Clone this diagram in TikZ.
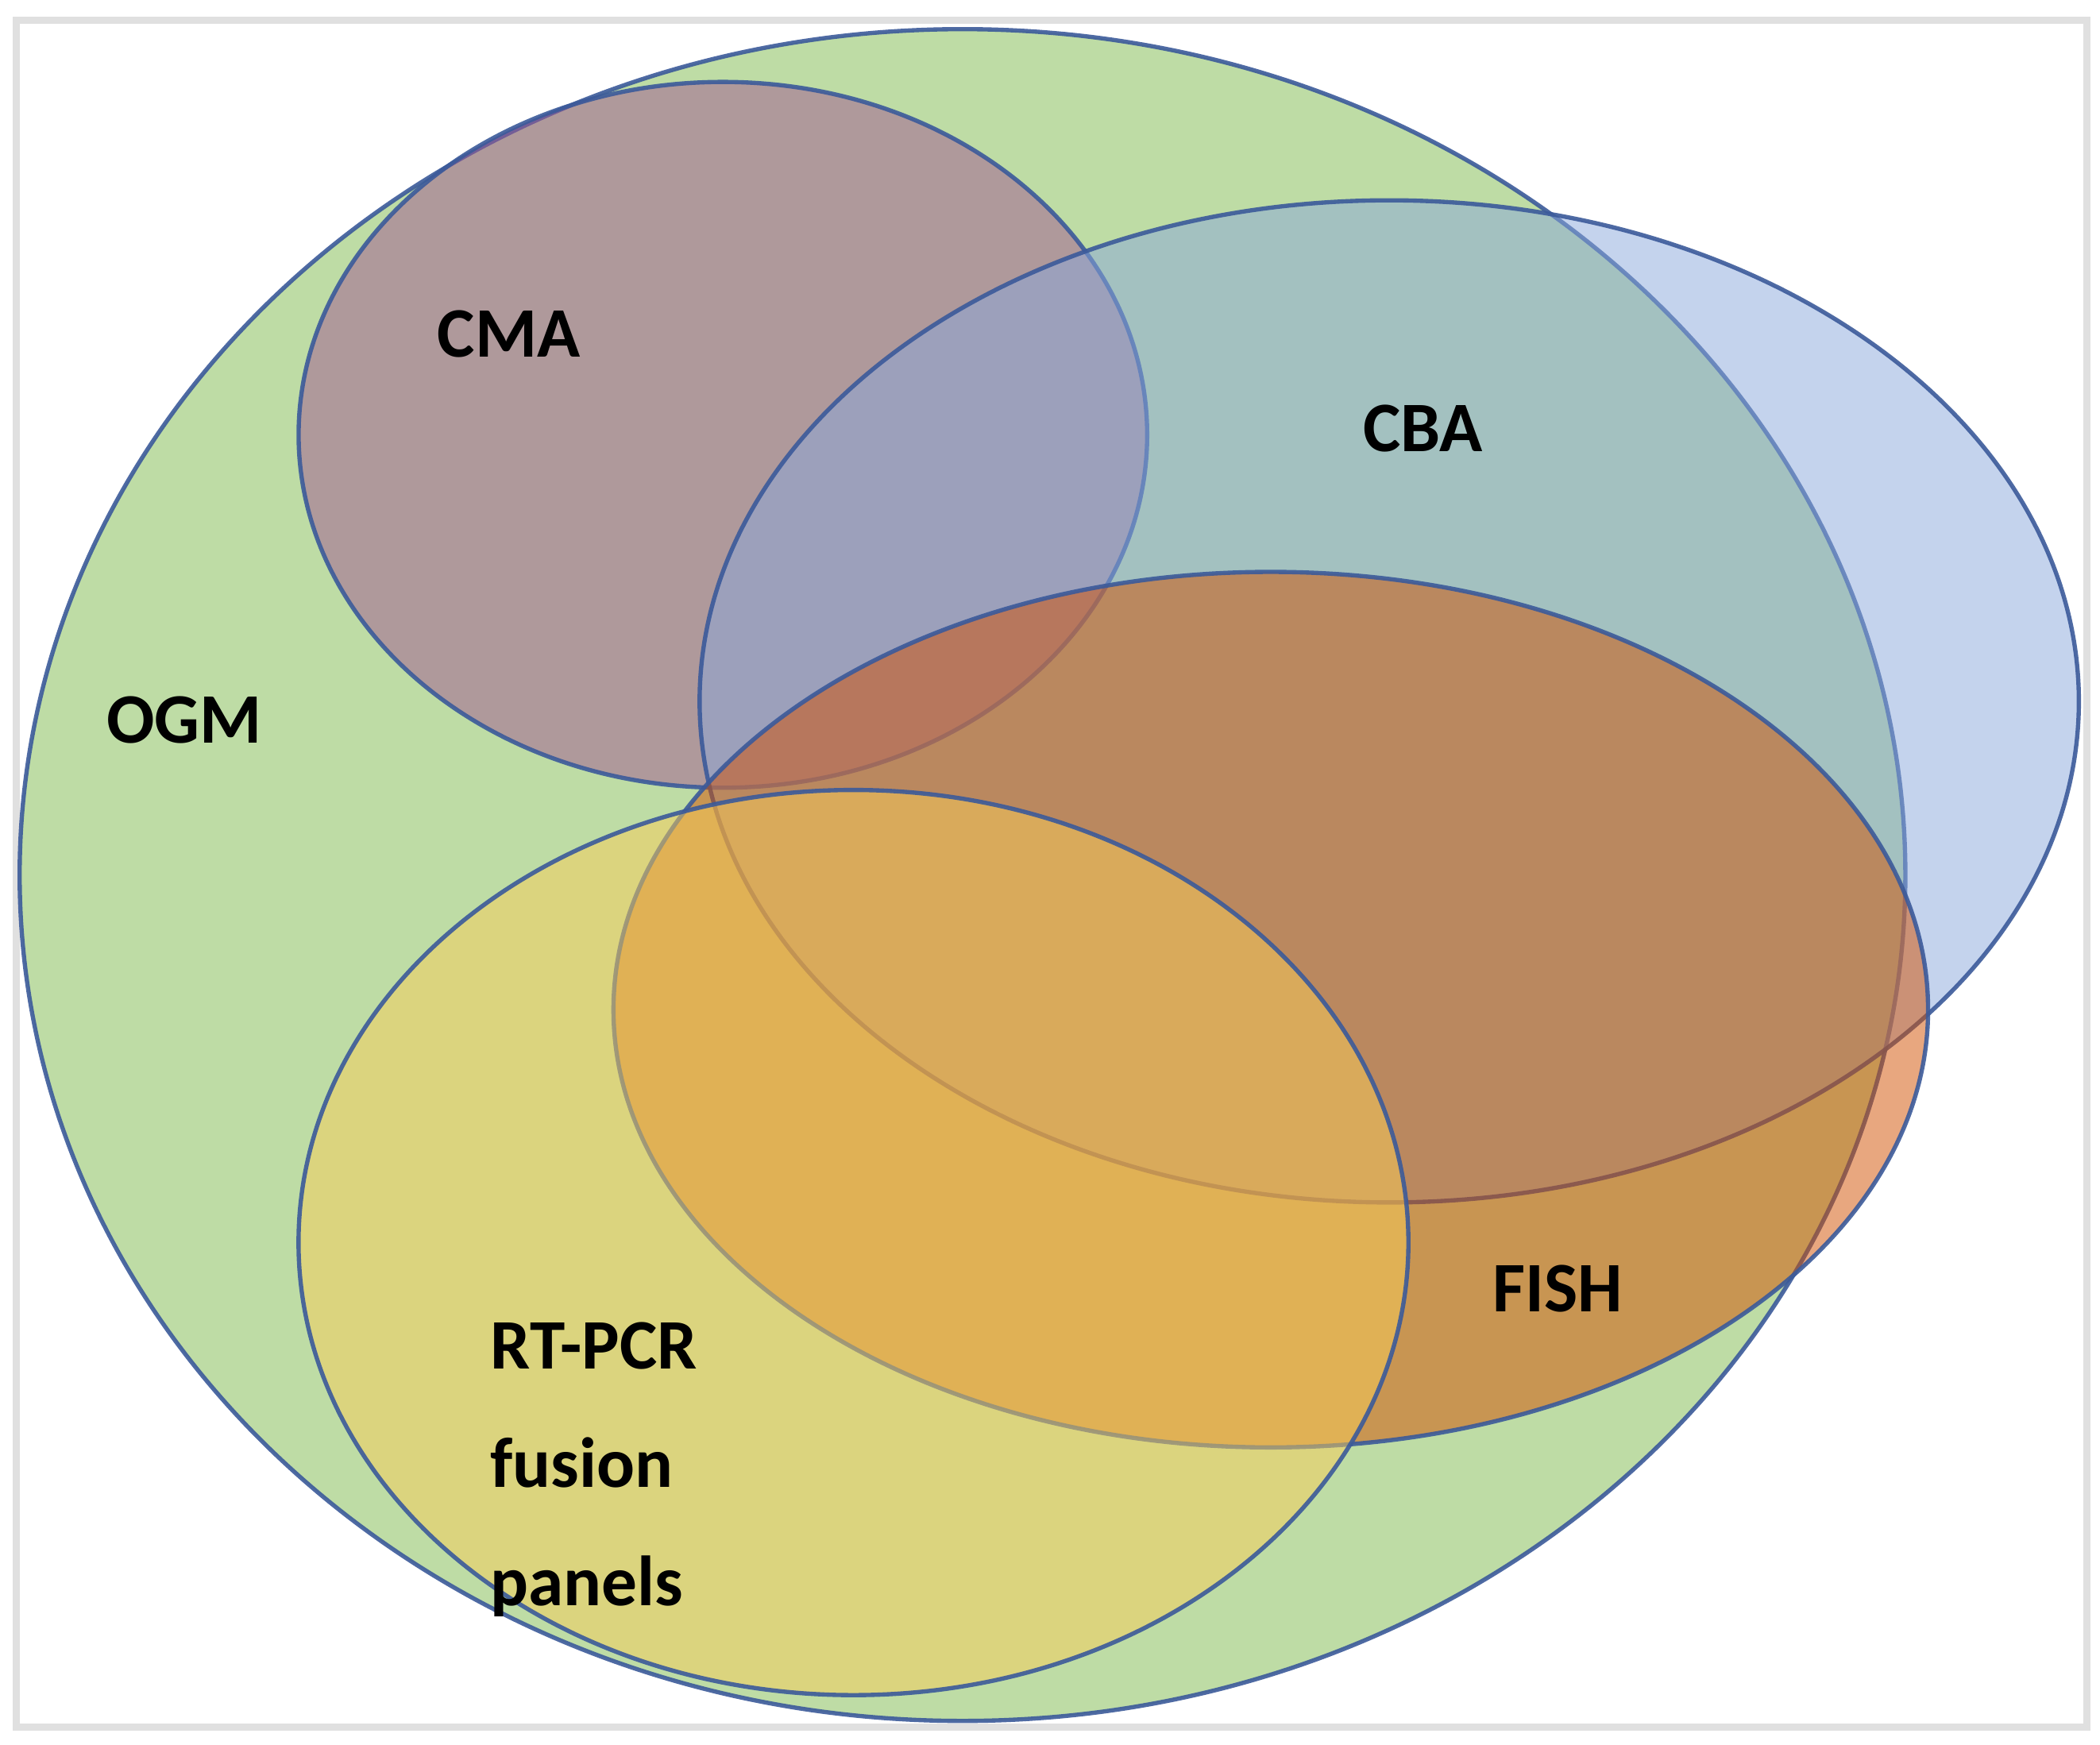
\documentclass[tikz,border=0pt]{standalone}
\usepackage{fontspec}
\setmainfont{Carlito}
\definecolor{cgreen}{HTML}{7FBB4D}
\definecolor{cblue}{HTML}{8AA8DC}
\definecolor{corange}{HTML}{D25000}
\definecolor{cyellow}{HTML}{F9CD58}
\definecolor{cmauve}{HTML}{A15792}
\definecolor{edge}{HTML}{3B5A9A}
\begin{document}
\begin{tikzpicture}[x=0.01cm,y=-0.01cm,
  set/.style={draw=edge,line width=0.9pt,fill opacity=0.5,draw opacity=0.9},
  lab/.style={font=\fontsize{15}{19}\selectfont\bfseries,text=black,align=left}]
\useasboundingbox (0,0) rectangle (1560,1296);
\fill[white] (0,0) rectangle (1560,1296);
\draw[black!12,line width=1.5pt] (12,15) rectangle (1550,1283);
\fill[cgreen,opacity=0.5] (715,650) ellipse [x radius=7cm,y radius=6.28cm];
\draw[set] (715,650) ellipse [x radius=7cm,y radius=6.28cm];
\draw[set,fill=cmauve] (537,323) ellipse [x radius=3.15cm,y radius=2.62cm];
\draw[set,fill=cblue] (1032,521) ellipse [x radius=5.12cm,y radius=3.72cm];
\draw[set,fill=corange] (944,750) ellipse [x radius=4.88cm,y radius=3.25cm];
\draw[set,fill=cyellow] (634,923) ellipse [x radius=4.12cm,y radius=3.36cm];
\node[lab] (cma) at (378,248) {CMA};
\node[lab] (cba) at (1057,318) {CBA};
\node[lab] (ogm) at (137,535) {OGM};
\node[lab] (fish) at (1157,957) {FISH};
\node[lab,anchor=north west] (rt) at (352,970) {RT-PCR\\[6pt]fusion\\[6pt]panels};
\end{tikzpicture}
\end{document}
